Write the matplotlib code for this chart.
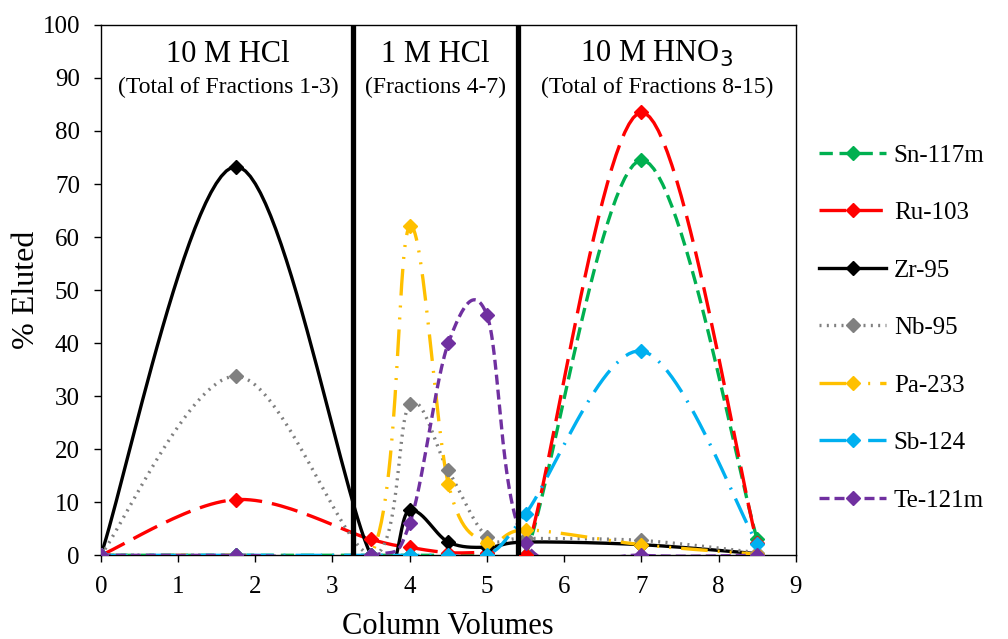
import numpy as np
import matplotlib
matplotlib.use("Agg")
import matplotlib.pyplot as plt

plt.rcParams['font.family'] = ['Liberation Serif', 'DejaVu Serif']

# column volumes at which fractions were measured
cv = [0, 1.75, 3.5, 4, 4.5, 5, 5.5, 7, 8.5]

sn117m = [0, 0, 0, 0, 0, 0, 0, 74.5, 3]
ru103 = [0, 10.5, 3, 1.5, 0.5, 0.5, 0, 83.5, 2.3]
zr95 = [0, 73.3, 0, 8.5, 2.5, 1.5, 2.5, 2, 0.3]
nb95 = [0, 33.8, 0, 28.5, 16, 3.5, 3.2, 2.8, 0.5]
pa233 = [0, 0, 0, 62, 13.5, 2.3, 4.8, 2, 0.2]
sb124 = [0, 0, 0, 0, 0, 0, 7.8, 38.5, 2.2]
te121m = [0, 0, 0, 6, 40, 45.3, 2.3, 0, 0]

names = ['Sn-117m', 'Ru-103', 'Zr-95', 'Nb-95', 'Pa-233', 'Sb-124', 'Te-121m']
colors = ['#00B050', '#FF0000', '#000000', '#808080', '#FFC000', '#00B0F0', '#7030A0']
styles = [(0, (4, 2)), (0, (8, 3)), '-', (0, (0.6, 1.6)),
          (0, (8, 3, 0.6, 3, 0.6, 3)), (0, (8, 3, 0.6, 3)), (0, (3, 1.5))]
series = [sn117m, ru103, zr95, nb95, pa233, sb124, te121m]

dividers = [3.26, 5.4]
region_titles = ['10 M HCl', '1 M HCl', '10 M HNO$_3$']
region_subs = ['(Total of Fractions 1-3)', '(Fractions 4-7)', '(Total of Fractions 8-15)']
region_x = [1.65, 4.33, 7.2]


def smooth(x, y, n=30):
    # Excel-like smoothed line (Bezier through the points)
    p = np.column_stack([x, y]).astype(float)
    p = np.vstack([p[0], p, p[-1]])
    out = []
    t = np.linspace(0, 1, n)[:, None]
    for i in range(1, len(p) - 2):
        p0, p1, p2, p3 = p[i - 1], p[i], p[i + 1], p[i + 2]
        c1 = p1 + (p2 - p0) / 6
        c2 = p2 - (p3 - p1) / 6
        seg = ((1 - t) ** 3) * p1 + 3 * ((1 - t) ** 2) * t * c1 + 3 * (1 - t) * t ** 2 * c2 + t ** 3 * p2
        out.append(seg if i == 1 else seg[1:])
    out = np.vstack(out)
    return out[:, 0], out[:, 1]


fig = plt.figure(figsize=(10.08, 6.39), dpi=100)
ax = fig.add_axes([0.1, 0.131, 0.6895, 0.83])

for vals, name, col, ls in zip(series, names, colors, styles):
    sx, sy = smooth(cv, vals)
    ax.plot(sx, sy, color=col, lw=2.4, ls=ls, zorder=3)
    ax.plot(cv, vals, ls='none', marker='D', color=col, ms=7, zorder=4)
    ax.plot([], [], color=col, lw=2.4, ls=ls, marker='D', ms=7, label=name)

for d in dividers:
    ax.plot([d, d], [0, 100], color='black', lw=3.8, zorder=5)

for xx, t1, t2 in zip(region_x, region_titles, region_subs):
    ax.text(xx, 94.5, t1, ha='center', va='center', fontsize=22)
    ax.text(xx, 88.3, t2, ha='center', va='center', fontsize=17)

ax.set_xlim(0, 9)
ax.set_ylim(0, 100)
ax.set_xticks(range(0, 10))
ax.set_yticks(range(0, 101, 10))
ax.tick_params(labelsize=18, direction='out', length=5, width=1, pad=10)
for s in ax.spines.values():
    s.set_linewidth(1)
ax.set_xlabel('Column Volumes', fontsize=22, labelpad=10)
ax.set_ylabel('% Eluted', fontsize=23, labelpad=1)

fig.legend(loc='center left', bbox_to_anchor=(0.79, 0.487), frameon=False,
           fontsize=18, labelspacing=1.4, handlelength=2.7, handletextpad=0.3)

fig.savefig('out.png', dpi=100)
